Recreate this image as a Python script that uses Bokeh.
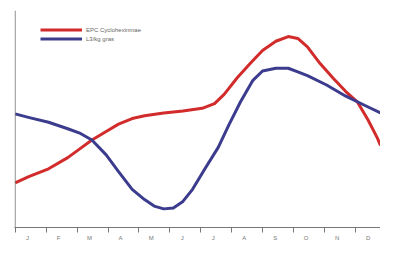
from bokeh.plotting import figure
from bokeh.models import Range1d, FixedTicker, Span, Legend, LegendItem
from bokeh.embed import file_html
from bokeh.resources import INLINE

months = ["J", "F", "M", "A", "M", "J", "J", "A", "S", "O", "N", "D"]

red_x = [0.00, 0.46, 1.08, 1.70, 2.11, 2.48, 2.94, 3.34, 3.78, 4.18, 4.80, 5.42, 6.04,
         6.44, 6.75, 7.18, 7.59, 7.99, 8.42, 8.82, 9.13, 9.44, 9.85, 10.28, 10.68,
         11.05, 11.39, 11.70, 11.80]
red_y = [48, 55, 63, 75, 85, 94, 103, 111, 117, 120, 123, 125, 128,
         133, 143, 161, 176, 190, 200, 205, 203, 194, 176, 160, 146,
         135, 116, 96, 88]

blue_x = [0.00, 0.46, 1.08, 1.70, 2.11, 2.48, 2.94, 3.34, 3.78, 4.18, 4.49, 4.80, 5.11,
          5.42, 5.73, 6.13, 6.56, 6.90, 7.28, 7.68, 7.99, 8.42, 8.82, 9.13, 9.44,
          10.06, 10.68, 11.30, 11.80]
blue_y = [122, 118, 113, 106, 101, 94, 78, 60, 41, 30, 23, 20, 21,
          28, 41, 63, 86, 110, 135, 158, 168, 171, 171, 167, 163,
          153, 141, 131, 123]

series_names = ["EPC Cyclohexinmae", "L3/kg gras"]

p = figure(width=380, height=243, output_backend="svg", toolbar_location=None,
           x_range=Range1d(-0.02, 11.8), y_range=Range1d(0, 233),
           min_border_left=14, min_border_right=0, min_border_top=10, min_border_bottom=0)
p.outline_line_color = None
p.grid.visible = False
p.yaxis.visible = False
p.background_fill_color = "white"

r_red = p.line(red_x, red_y, line_color="#d22b2b", line_width=3, line_join="round")
r_blue = p.line(blue_x, blue_y, line_color="#3c3c8e", line_width=3, line_join="round")

label_pos = [k + 0.4 for k in range(12)]
ax = p.xaxis[0]
ax.ticker = FixedTicker(ticks=label_pos, minor_ticks=list(range(13)))
ax.major_label_overrides = {pos: m for pos, m in zip(label_pos, months)}
ax.major_tick_out = 0
ax.major_tick_in = 0
ax.minor_tick_out = 5
ax.minor_tick_in = 0
ax.minor_tick_line_color = "#777777"
ax.minor_tick_line_width = 1
ax.axis_line_color = "#777777"
ax.axis_line_width = 1
ax.major_label_text_font_size = "6px"
ax.major_label_text_color = "#777777"
ax.major_label_standoff = 2

p.add_layout(Span(location=0, dimension="height", line_color="#777777", line_width=1))

legend = Legend(items=[LegendItem(label=series_names[0], renderers=[r_red]),
                       LegendItem(label=series_names[1], renderers=[r_blue])],
                location=(26, 184), glyph_width=42, glyph_height=9, spacing=0,
                padding=0, margin=0, label_text_font_size="6px",
                label_text_color="#666666", label_standoff=4,
                border_line_color=None, background_fill_alpha=0)
p.add_layout(legend)

open("out.html", "w").write(file_html(p, INLINE))
